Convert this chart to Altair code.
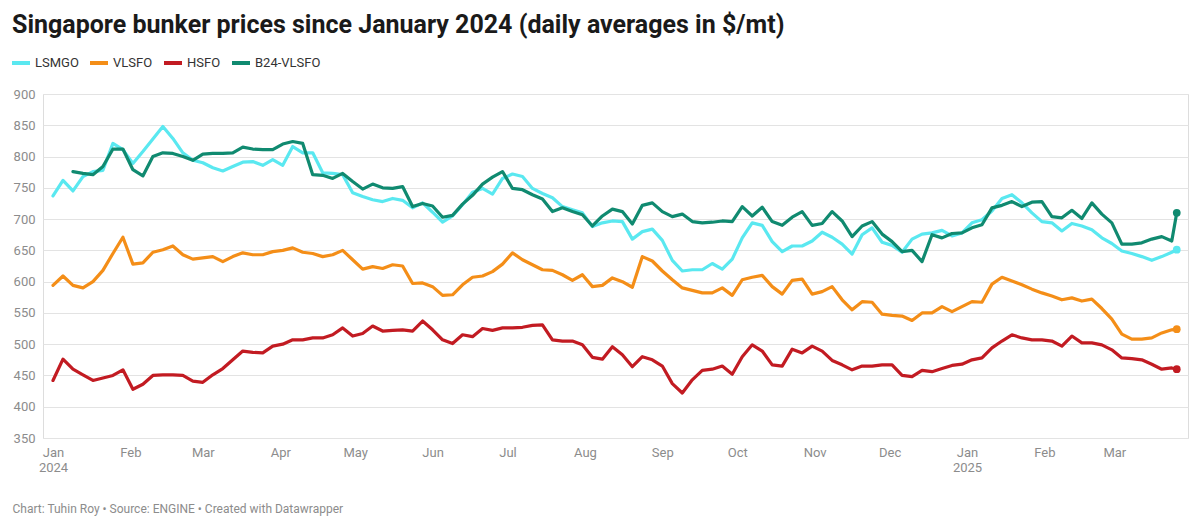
import altair as alt
import pandas as pd
from datetime import datetime, timedelta, timezone

# ---------------- data (4-day sampling) ----------------
series_names = ["LSMGO", "VLSFO", "HSFO", "B24-VLSFO"]
series_colors = ["#5ae8f0", "#f48e18", "#c21b22", "#108a70"]

start = datetime(2024, 1, 1)
dates = [(start + timedelta(days=4 * k)).strftime("%Y-%m-%d") for k in range(113)] + ["2025-03-26"]

lsmgo = [
    737, 762, 745, 768, 776, 778, 821, 811, 789, 808, 828, 848, 829, 806, 794,
    790, 782, 777, 784, 791, 792, 786, 795, 786, 816, 806, 806, 774, 773, 771,
    742, 736, 731, 728, 733,
    730, 718, 726, 711, 695, 705, 723, 743, 749, 740, 765, 772, 768, 749, 741,
    734, 720, 715, 710, 688, 694, 697, 696, 668, 680, 684, 666, 634, 617, 619,
    619, 629, 620, 636, 670, 694, 690, 664, 648, 657,
    657, 665, 679, 671, 660, 644, 675, 686, 663, 658, 647, 668, 676, 678, 682,
    673, 678, 694, 699, 713, 733, 739, 726, 710, 696, 694, 681, 693, 689, 683,
    670, 661, 649, 645, 640, 634, 640, 647,
    651,
]

vlsfo = [
    594, 609, 594, 590, 600, 618, 645, 671, 628, 630, 647, 651, 657, 643, 636,
    638, 640, 632, 640, 646, 643, 643, 648, 650, 654, 647, 645, 640, 643, 650,
    635, 620, 624, 621, 627,
    625, 597, 598, 592, 578, 579, 595, 607, 609, 616, 628, 646, 635, 627, 619,
    618, 611, 602, 611, 592, 594, 606, 600, 591, 640, 633, 617, 603, 590, 586,
    582, 582, 590, 578, 603, 607, 610, 592, 580, 602,
    604, 580, 584, 592, 571, 555, 568, 567, 548, 546, 545, 538, 550, 550, 560,
    552, 560, 568, 567, 596, 607, 601, 595, 588, 582, 577, 571, 574, 569, 572,
    557, 540, 516, 508, 508, 510, 518, 523,
    524,
]

hsfo = [
    442, 476, 460, 451, 442, 446, 450, 459, 428, 436, 450, 451, 451, 450, 441,
    439, 451, 461, 475, 489, 487, 486, 497, 500, 507, 507, 510, 510, 515, 526,
    513, 517, 529, 521, 522,
    523, 521, 537, 523, 507, 501, 515, 512, 525, 522, 526, 526, 527, 530, 531,
    507, 505, 505, 499, 479, 476, 496, 483, 464, 480, 475, 465, 437, 422, 443,
    458, 460, 465, 452, 480, 499, 489, 467, 465, 492,
    486, 497, 489, 474, 467, 459, 465, 465, 467, 467, 450, 448, 458, 456, 461,
    466, 468, 475, 478, 494, 505, 515, 510, 507, 507, 505, 497, 513, 502, 502,
    499, 491, 478, 477, 475, 468, 460, 462,
    460,
]

b24_vlsfo = [
    None, None, 776, 773, 771, 784, 812, 812, 779, 769, 800, 806, 805, 800, 794,
    804, 805, 805, 806, 815, 812, 811, 811, 820, 824, 821, 771, 770, 765, 773,
    760, 748, 756, 750, 749,
    752, 720, 725, 721, 703, 706, 724, 738, 756, 767, 776, 749, 747, 739, 732,
    712, 718, 712, 707, 689, 705, 716, 712, 692, 722, 726, 712, 704, 708, 696,
    694, 695, 697, 696, 720, 705, 719, 696, 690, 703,
    712, 690, 693, 712, 697, 672, 689, 696, 676, 664, 648, 650, 632, 675, 670,
    677, 678, 686, 691, 718, 722, 728, 720, 727, 728, 704, 702, 714, 701, 726,
    708, 694, 660, 660, 662, 668, 672, 665,
    710,
]

y_ticks = [350, 400, 450, 500, 550, 600, 650, 700, 750, 800, 850, 900]
month_ticks = ["2024-01-01", "2024-02-01", "2024-03-01", "2024-04-01", "2024-05-01",
               "2024-06-01", "2024-07-01", "2024-08-01", "2024-09-01", "2024-10-01",
               "2024-11-01", "2024-12-01", "2025-01-01", "2025-02-01", "2025-03-01"]

title_text = "Singapore bunker prices since January 2024 (daily averages in $/mt)"
footer_text = "Chart: Tuhin Roy \u2022 Source: ENGINE \u2022 Created with Datawrapper"

# ---------------- build tables ----------------
def ms(s):
    d = datetime.strptime(s, "%Y-%m-%d").replace(tzinfo=timezone.utc)
    return int(d.timestamp() * 1000)

rows = []
last_rows = []
for name, vals in zip(series_names, [lsmgo, vlsfo, hsfo, b24_vlsfo]):
    for d, v in zip(dates, vals):
        if v is not None:
            rows.append({"date": d, "series": name, "price": v})
    last_rows.append({"date": dates[-1], "series": name, "price": vals[-1]})
df = pd.DataFrame(rows)
df_last = pd.DataFrame(last_rows)

x_domain = [ms("2023-12-28"), ms("2025-03-30") + 12 * 3600 * 1000]
tick_values = [ms(s) for s in month_ticks]

FONT = "Roboto"
GRAY = "#8c8c8c"

x_enc = alt.X(
    "date:T",
    scale=alt.Scale(type="utc", domain=x_domain),
    axis=alt.Axis(
        values=tick_values,
        labelExpr="utcFormat(datum.value, '%m') == '01' ? [utcFormat(datum.value, '%b'), utcFormat(datum.value, '%Y')] : utcFormat(datum.value, '%b')",
        grid=False, ticks=False, domain=False,
        labelPadding=8, labelFontSize=13, labelColor=GRAY, labelFont=FONT,
        labelLineHeight=15, labelAlign="center", labelBaseline="top",
        labelFlush=False, labelOverlap=False,
        title=footer_text, titleFont=FONT, titleFontSize=12, titleFontWeight="normal",
        titleColor=GRAY, titleX=-31, titleY=70, titleAlign="left", titleBaseline="middle",
        titleAnchor="start",
    ),
)
y_enc = alt.Y(
    "price:Q",
    scale=alt.Scale(domain=[350, 900], nice=False, zero=False),
    axis=alt.Axis(
        values=y_ticks, title=None, ticks=False, domain=False,
        labelPadding=8, labelFontSize=13, labelColor=GRAY, labelFont=FONT,
        labelOverlap=False, labelFlush=False, labelBound=False,
        gridColor="#e3e3e3", gridWidth=1,
    ),
)
color_scale = alt.Scale(domain=series_names, range=series_colors)
legend = alt.Legend(
    title=None, orient="none", legendX=-33, legendY=-42, direction="horizontal",
    columns=4, symbolType="stroke", symbolStrokeWidth=4, symbolSize=324,
    labelFontSize=13, labelFont=FONT, labelColor="#333333",
    columnPadding=3, labelOffset=3,
)

lines = alt.Chart(df).mark_line(strokeWidth=3.2, strokeJoin="round", strokeCap="round").encode(
    x=x_enc,
    y=y_enc,
    color=alt.Color("series:N", scale=color_scale, sort=series_names, legend=legend),
    order=alt.Order("date:T"),
)

dots = alt.Chart(df_last).mark_circle(size=60, opacity=1).encode(
    x=x_enc,
    y=y_enc,
    color=alt.Color("series:N", scale=color_scale, sort=series_names, legend=legend),
)

chart = alt.layer(lines, dots).properties(
    width=1145,
    height=344,
    title=alt.TitleParams(
        title_text, anchor="start", frame="group", dx=-31, offset=14,
        fontSize=25, font=FONT, fontWeight="bold", color="#1a1a1a",
    ),
    padding={"left": 35, "top": 86, "right": 4, "bottom": 82},
    autosize=alt.AutoSizeParams(type="none"),
).configure_view(stroke=None).configure(background="white").configure_axisY(
    labelOverlap=False
)

chart.save("out.html", embed_options={"renderer": "svg", "actions": False})
